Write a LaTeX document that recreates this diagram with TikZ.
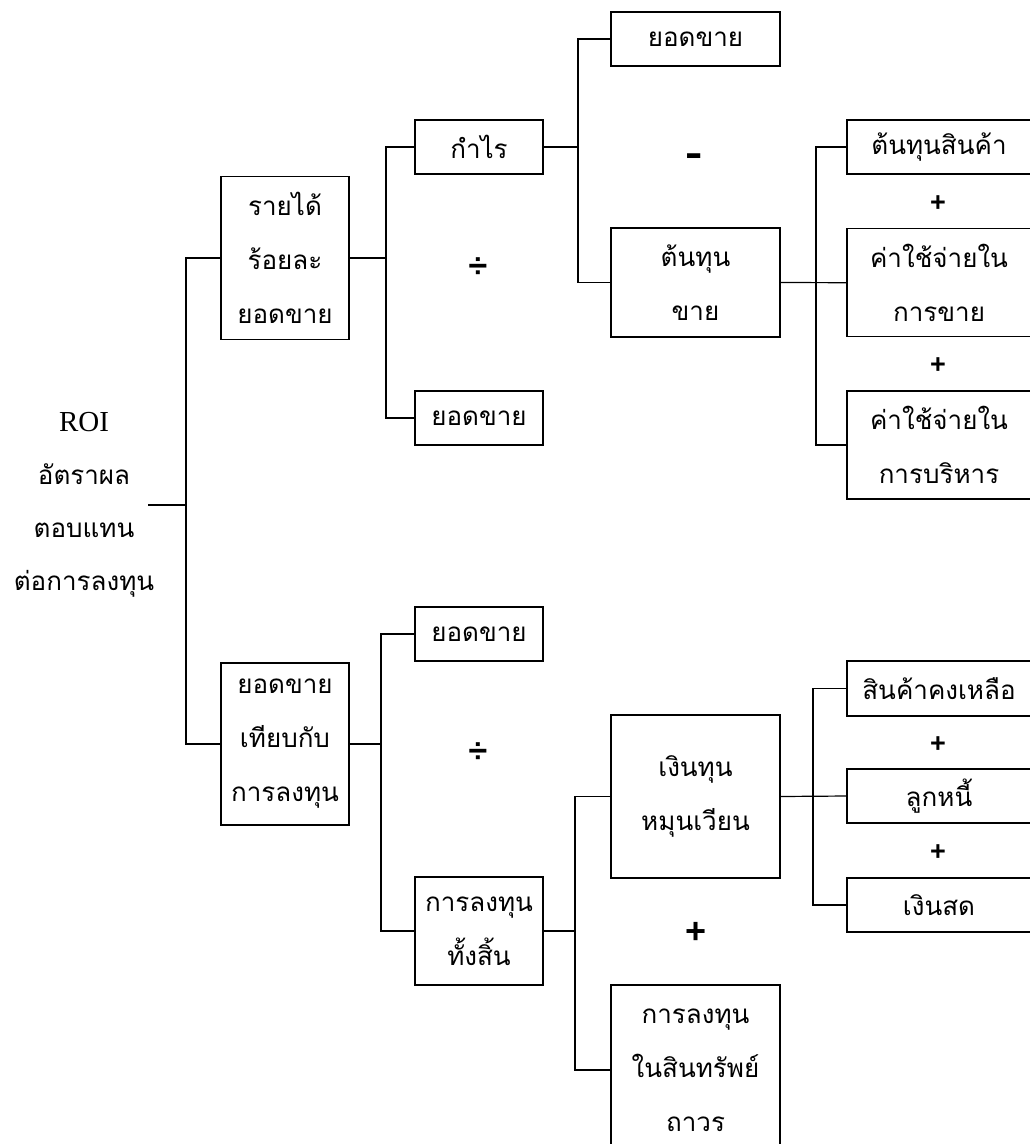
\documentclass[tikz,border=0pt]{standalone}
\usepackage{fontspec}
\setmainfont{Liberation Serif}
\newfontfamily\thaifont[Script=Thai]{Loma}
\newfontfamily\opfont{Liberation Sans}
\begin{document}
\begin{tikzpicture}[x=1pt,y=-1pt,
  box/.style={draw, line width=1.2pt, inner sep=0pt, align=center,
    font=\thaifont\fontsize{26}{54}\selectfont},
  conn/.style={line width=1.2pt, line join=miter},
  op/.style={font=\opfont\bfseries\fontsize{27}{27}\selectfont, inner sep=0pt},
  divop/.style={font=\opfont\bfseries\fontsize{34}{34}\selectfont, inner sep=0pt},
  bigop/.style={font=\opfont\bfseries\fontsize{36}{36}\selectfont, inner sep=0pt},
  dashop/.style={font=\opfont\bfseries\fontsize{40}{40}\selectfont, inner sep=0pt, xscale=1.3}]
\useasboundingbox (0,0) rectangle (1029,1144);
% root
\node[align=center, inner sep=0pt, font=\thaifont\fontsize{26}{53}\selectfont] (roi) at (84,505)
  {{\rmfamily\fontsize{29}{53}\selectfont ROI}\\อัตราผล\\ตอบแทน\\ต่อการลงทุน};
% level 1
\node[box, minimum width=128, minimum height=163] (a1) at (285,258) {รายได้\\ร้อยละ\\ยอดขาย};
\node[box, minimum width=128, minimum height=162] (a2) at (285,744) {ยอดขาย\\เทียบกับ\\การลงทุน};
% level 2
\node[box, minimum width=128, minimum height=54] (b1) at (479,147) {กำไร};
\node[box, minimum width=128, minimum height=54] (b2) at (479,418) {ยอดขาย};
\node[box, minimum width=128, minimum height=54] (b3) at (479,634) {ยอดขาย};
\node[box, minimum width=128, minimum height=108] (b4) at (479,931) {การลงทุน\\ทั้งสิ้น};
% level 3
\node[box, minimum width=169, minimum height=54] (c1) at (695.5,39) {ยอดขาย};
\node[box, minimum width=169, minimum height=109] (c2) at (695.5,282.5) {ต้นทุน\\ขาย};
\node[box, minimum width=169, minimum height=163] (c3) at (695.5,796.5) {เงินทุน\\หมุนเวียน};
\node[box, minimum width=169, minimum height=170] (c4) at (695.5,1070) {การลงทุน\\ในสินทรัพย์\\ถาวร};
% level 4
\node[box, minimum width=184, minimum height=54] (d1) at (939,147) {ต้นทุนสินค้า};
\node[box, minimum width=184, minimum height=108] (d2) at (939,282.7) {ค่าใช้จ่ายใน\\การขาย};
\node[box, minimum width=184, minimum height=108] (d3) at (939,445) {ค่าใช้จ่ายใน\\การบริหาร};
\node[box, minimum width=184, minimum height=55] (d4) at (939,688.5) {สินค้าคงเหลือ};
\node[box, minimum width=184, minimum height=54] (d5) at (939,796) {ลูกหนี้};
\node[box, minimum width=184, minimum height=54] (d6) at (939,905) {เงินสด};
% operators
\node[dashop] (o1) at (694,160) {-};
\node[divop] (o2) at (478,268) {÷};
\node[divop] (o3) at (478,753) {÷};
\node[op] (o4) at (938,204) {+};
\node[op] (o5) at (938,366) {+};
\node[op] (o6) at (938,745) {+};
\node[op] (o7) at (938,853) {+};
\node[bigop] (o8) at (696,933) {+};
% bus coordinates
\coordinate (bus0) at (186,0);
\coordinate (bus1) at (386,0);
\coordinate (bus2) at (578,0);
\coordinate (bus3) at (816,0);
\coordinate (bus4) at (381,0);
\coordinate (bus5) at (575,0);
\coordinate (bus6) at (813,0);
% connectors
\draw[conn] ([xshift=-6pt]roi.east) -- (roi.east -| bus0);
\draw[conn] (a1.west) -- (a1.west -| bus0) -- (a2.west -| bus0) -- (a2.west);
\draw[conn] (a1.east) -- (a1.east -| bus1);
\draw[conn] (b1.west) -- (b1.west -| bus1) -- (b2.west -| bus1) -- (b2.west);
\draw[conn] (b1.east) -- (b1.east -| bus2);
\draw[conn] (c1.west) -- (c1.west -| bus2) -- (c2.west -| bus2) -- (c2.west);
\draw[conn] (c2.east) -- (d2.west);
\draw[conn] (d1.west) -- (d1.west -| bus3) -- (d3.west -| bus3) -- (d3.west);
\draw[conn] (a2.east) -- (a2.east -| bus4);
\draw[conn] (b3.west) -- (b3.west -| bus4) -- (b4.west -| bus4) -- (b4.west);
\draw[conn] (b4.east) -- (b4.east -| bus5);
\draw[conn] (c3.west) -- (c3.west -| bus5) -- (c4.west -| bus5) -- (c4.west);
\draw[conn] (c3.east) -- (d5.west);
\draw[conn] (d4.west) -- (d4.west -| bus6) -- (d6.west -| bus6) -- (d6.west);
\end{tikzpicture}
\end{document}
